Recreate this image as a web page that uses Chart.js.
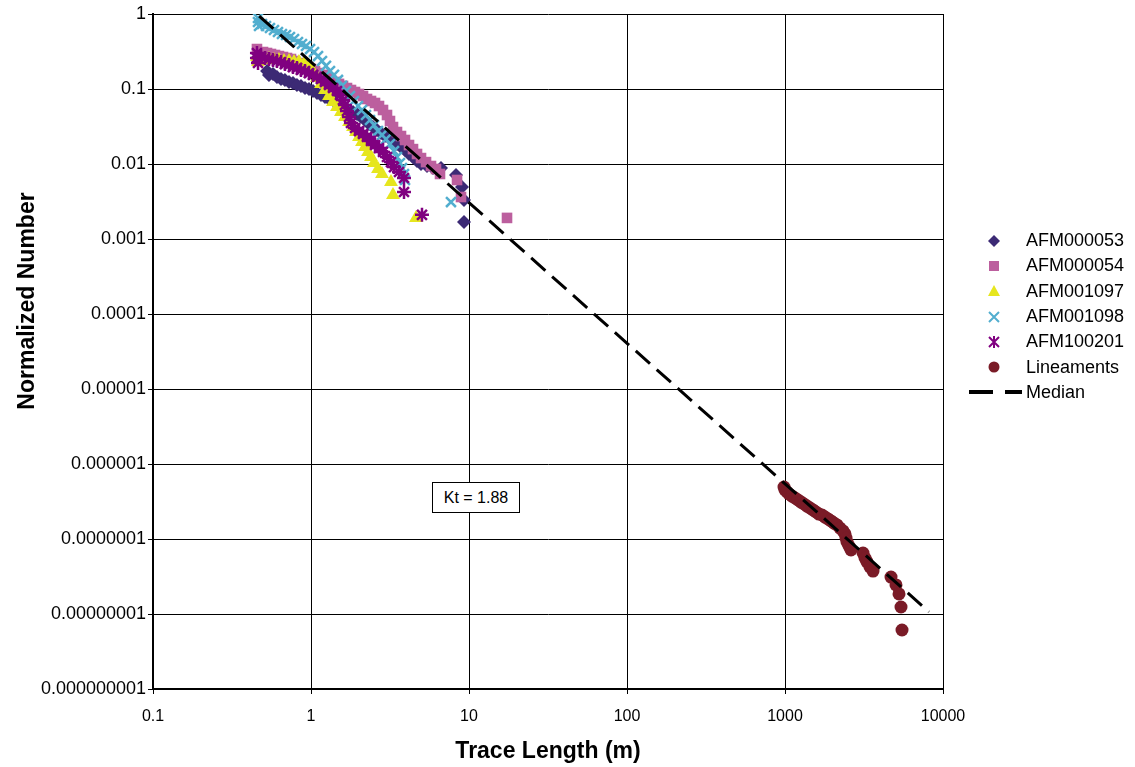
<!DOCTYPE html>
<html>
<head>
<meta charset="utf-8">
<script src="https://cdn.jsdelivr.net/npm/chart.js@4.4.1/dist/chart.umd.min.js"></script>
<style>
  body { margin: 0; background: #fff; font-family: "Liberation Sans", Arial, sans-serif; }
  #wrap { position: relative; width: 1135px; height: 767px; }
  #kt {
    position: absolute; left: 432px; top: 482px; width: 86px; height: 29px;
    border: 1px solid #000; background: #fff; font-size: 16px; line-height: 29px;
    text-align: center; color: #000;
  }
  #legend { position: absolute; left: 962px; top: 228px; font-size: 18px; color: #000; }
  #legend .row { display: flex; align-items: center; height: 25.3px; }
  #legend svg { width: 64px; height: 20px; flex: none; }
</style>
</head>
<body>
<div id="wrap">
  <canvas id="myChart" width="1135" height="767"></canvas>
  <div id="kt">Kt = 1.88</div>
  <div id="legend"></div>
</div>
<script>
// axis ticks
var xTickValues = [0.1, 1, 10, 100, 1000, 10000];
var xTickLabels = ["0.1", "1", "10", "100", "1000", "10000"];
var yTickValues = [1, 0.1, 0.01, 0.001, 0.0001, 0.00001, 0.000001, 0.0000001, 0.00000001, 0.000000001];
var yTickLabels = ["1", "0.1", "0.01", "0.001", "0.0001", "0.00001", "0.000001", "0.0000001", "0.00000001", "0.000000001"];

// AFM000053
var afm53X = [0.527, 0.542, 0.575, 0.609, 0.646, 0.684, 0.726, 0.769, 0.815, 0.864, 0.916, 0.971, 1.03, 1.091, 1.157, 1.226, 1.3, 1.419, 1.548, 1.69, 1.845, 1.955, 2.073, 2.197, 2.329, 2.469, 2.617, 2.773, 2.941, 3.117, 3.304, 3.502, 3.712, 3.935, 4.172, 4.422, 4.688, 4.969, 5.423, 5.918, 6.65, 8.277, 9.031, 9.298, 9.298];
var afm53Y = [0.174, 0.154, 0.158, 0.145, 0.136, 0.132, 0.124, 0.12, 0.113, 0.11, 0.103, 0.1, 0.094, 0.0885, 0.0832, 0.0782, 0.0736, 0.0673, 0.0593, 0.0541, 0.0494, 0.0464, 0.0423, 0.0386, 0.0341, 0.0311, 0.0284, 0.0259, 0.0236, 0.0222, 0.0203, 0.0185, 0.0169, 0.0154, 0.0136, 0.0124, 0.011, 0.01, 0.0094, 0.00885, 0.00885, 0.00714, 0.00494, 0.00331, 0.00168];

// AFM000054
var afm54X = [0.455, 0.469, 0.469, 0.497, 0.527, 0.558, 0.592, 0.627, 0.665, 0.705, 0.747, 0.792, 0.839, 0.89, 0.943, 1.0, 1.06, 1.124, 1.191, 1.263, 1.339, 1.419, 1.504, 1.594, 1.69, 1.791, 1.899, 2.013, 2.134, 2.262, 2.398, 2.542, 2.694, 2.856, 3.027, 3.162, 3.304, 3.502, 3.712, 3.935, 4.172, 4.422, 4.688, 4.969, 5.345, 5.748, 6.183, 6.553, 8.399, 8.9, 17.4];
var afm54Y = [0.341, 0.302, 0.284, 0.311, 0.302, 0.293, 0.284, 0.275, 0.267, 0.259, 0.251, 0.236, 0.222, 0.209, 0.196, 0.185, 0.174, 0.163, 0.154, 0.14, 0.132, 0.124, 0.117, 0.11, 0.103, 0.097, 0.0912, 0.0858, 0.0807, 0.0736, 0.0692, 0.0651, 0.0593, 0.0525, 0.045, 0.0374, 0.0311, 0.0267, 0.0236, 0.0209, 0.0179, 0.0158, 0.0136, 0.012, 0.0106, 0.0094, 0.00858, 0.00736, 0.00612, 0.00363, 0.00191];

// AFM001097
var afm1097X = [0.455, 0.462, 0.483, 0.512, 0.542, 0.583, 0.627, 0.675, 0.726, 0.781, 0.839, 0.903, 0.971, 1.03, 1.091, 1.157, 1.226, 1.3, 1.378, 1.461, 1.548, 1.641, 1.74, 1.845, 1.927, 2.013, 2.103, 2.197, 2.295, 2.398, 2.504, 2.655, 2.814, 3.209, 3.304, 4.62];
var afm1097Y = [0.267, 0.229, 0.244, 0.244, 0.251, 0.244, 0.244, 0.236, 0.236, 0.229, 0.229, 0.215, 0.196, 0.169, 0.14, 0.117, 0.097, 0.0807, 0.0673, 0.0575, 0.0494, 0.0423, 0.0363, 0.0311, 0.0267, 0.0229, 0.0197, 0.0169, 0.0145, 0.0124, 0.0103, 0.00858, 0.00736, 0.00575, 0.00386, 0.0019];

// AFM001098
var afm1098X = [0.462, 0.462, 0.469, 0.49, 0.519, 0.55, 0.583, 0.618, 0.655, 0.695, 0.736, 0.781, 0.827, 0.877, 0.93, 0.986, 1.045, 1.108, 1.174, 1.244, 1.319, 1.398, 1.482, 1.571, 1.665, 1.765, 1.871, 1.984, 2.103, 2.229, 2.363, 2.504, 2.655, 2.814, 2.983, 3.162, 3.352, 3.502, 3.659, 3.766, 3.878, 3.935, 7.69];
var afm1098Y = [0.884, 0.782, 0.692, 0.736, 0.692, 0.651, 0.612, 0.575, 0.541, 0.525, 0.494, 0.464, 0.423, 0.398, 0.374, 0.341, 0.311, 0.275, 0.236, 0.203, 0.174, 0.154, 0.132, 0.11, 0.094, 0.0807, 0.0692, 0.0593, 0.0525, 0.045, 0.0386, 0.0331, 0.0275, 0.0244, 0.0215, 0.0185, 0.0149, 0.0124, 0.0103, 0.00885, 0.00736, 0.00612, 0.00311];

// AFM100201
var afm100201X = [0.455, 0.455, 0.462, 0.483, 0.512, 0.542, 0.575, 0.609, 0.646, 0.684, 0.726, 0.769, 0.815, 0.864, 0.916, 0.971, 1.03, 1.091, 1.157, 1.226, 1.3, 1.378, 1.461, 1.526, 1.594, 1.641, 1.69, 1.74, 1.791, 1.899, 2.013, 2.134, 2.262, 2.398, 2.542, 2.694, 2.856, 3.027, 3.209, 3.352, 3.606, 3.878, 3.878, 5.04];
var afm100201Y = [0.302, 0.259, 0.222, 0.267, 0.259, 0.251, 0.244, 0.236, 0.229, 0.215, 0.209, 0.196, 0.191, 0.179, 0.174, 0.163, 0.154, 0.145, 0.136, 0.124, 0.113, 0.103, 0.094, 0.0832, 0.0714, 0.0612, 0.0509, 0.0423, 0.0352, 0.0302, 0.0275, 0.0251, 0.0229, 0.0203, 0.0179, 0.0163, 0.0145, 0.0124, 0.0106, 0.0091, 0.00782, 0.0065, 0.00423, 0.0021];

// Lineaments
var lineamentsX = [985.6, 1000, 1030, 1060, 1107, 1157, 1209, 1263, 1319, 1378, 1440, 1504, 1571, 1641, 1715, 1791, 1872, 1955, 2042, 2134, 2229, 2329, 2397, 2433, 2469, 2542, 2617, 3117, 3209, 3304, 3451, 3606, 4688, 5040, 5266, 5423, 5503];
var lineamentsY = [4.93e-7, 4.5e-7, 4.23e-7, 3.98e-7, 3.74e-7, 3.52e-7, 3.31e-7, 3.11e-7, 2.93e-7, 2.75e-7, 2.59e-7, 2.44e-7, 2.29e-7, 2.15e-7, 2.09e-7, 1.96e-7, 1.85e-7, 1.74e-7, 1.63e-7, 1.54e-7, 1.4e-7, 1.28e-7, 1.17e-7, 1.03e-7, 9.12e-8, 8.07e-8, 7.14e-8, 6.51e-8, 5.58e-8, 4.94e-8, 4.23e-8, 3.74e-8, 3.11e-8, 2.44e-8, 1.85e-8, 1.24e-8, 6.12e-9];

// Median fit (Kt = 1.88)
var medianX = [0.47, 8150];
var medianY = [0.94, 1.07e-8];

function pts(xs, ys) {
  return xs.map((x, i) => ({ x: x, y: ys[i] }));
}

var series = [
  { label: "AFM000053", xs: afm53X, ys: afm53Y, color: "#3C2A75", style: "rectRot", r: 7, bw: 0, order: 7 },
  { label: "AFM000054", xs: afm54X, ys: afm54Y, color: "#BC5F9E", style: "rect", r: 7.5, bw: 0, order: 6 },
  { label: "AFM001097", xs: afm1097X, ys: afm1097Y, color: "#E6E61E", style: "triangle", r: 8, bw: 0, order: 5 },
  { label: "AFM001098", xs: afm1098X, ys: afm1098Y, color: "#52AECF", style: "crossRot", r: 7, bw: 2.5, order: 4 },
  { label: "AFM100201", xs: afm100201X, ys: afm100201Y, color: "#800080", style: "star", r: 7, bw: 2.5, order: 3 },
  { label: "Lineaments", xs: lineamentsX, ys: lineamentsY, color: "#7A1B27", style: "circle", r: 6.5, bw: 0, order: 2 },
];

var datasets = series.map((s) => ({
  label: s.label,
  data: pts(s.xs, s.ys),
  pointStyle: s.style,
  pointRadius: s.r,
  backgroundColor: s.color,
  borderColor: s.color,
  borderWidth: s.bw,
  order: s.order,
}));

datasets.push({
  label: "Median",
  type: "line",
  data: pts(medianX, medianY),
  borderColor: "#000",
  borderWidth: 3,
  borderDash: [19, 9],
  pointRadius: 0,
  fill: false,
  order: 1,
});

// y axis title sits above the centre in the original
var yTitlePlugin = {
  id: "yTitle",
  afterDraw(chart) {
    var ctx = chart.ctx;
    ctx.save();
    ctx.translate(28, 301);
    ctx.rotate(-Math.PI / 2);
    ctx.font = "bold 23px 'Liberation Sans', Arial, sans-serif";
    ctx.fillStyle = "#000";
    ctx.textAlign = "center";
    ctx.textBaseline = "middle";
    ctx.fillText("Normalized Number", 0, 0);
    ctx.restore();
  },
};

var ctx = document.getElementById("myChart").getContext("2d");
var myChart = new Chart(ctx, {
  type: "scatter",
  data: { datasets: datasets },
  plugins: [yTitlePlugin],
  options: {
    responsive: false,
    animation: false,
    devicePixelRatio: 1,
    layout: { padding: { left: 0, right: 192, top: 14, bottom: 0 } },
    plugins: {
      legend: { display: false },
      tooltip: { enabled: false },
    },
    scales: {
      x: {
        type: "logarithmic",
        min: 0.1,
        max: 10000,
        afterBuildTicks: (scale) => {
          scale.ticks = xTickValues.map((v) => ({ value: v, major: true }));
        },
        afterFit: (scale) => { scale.height = 78; },
        ticks: {
          callback: (value, index) => xTickLabels[index],
          font: { family: "'Liberation Sans', Arial, sans-serif", size: 16 },
          color: "#000",
          padding: 13,
          maxRotation: 0,
        },
        grid: { color: "#000", lineWidth: 1, tickLength: 5 },
        border: { color: "#000", width: 2 },
        title: {
          display: true,
          text: "Trace Length (m)",
          font: { family: "'Liberation Sans', Arial, sans-serif", size: 23, weight: "bold" },
          color: "#000",
          padding: { top: 0, bottom: 2 },
        },
      },
      y: {
        type: "logarithmic",
        min: 0.000000001,
        max: 1,
        afterBuildTicks: (scale) => {
          scale.ticks = yTickValues.map((v) => ({ value: v, major: true }));
        },
        afterFit: (scale) => { scale.width = 153; },
        ticks: {
          callback: (value, index) => yTickLabels[index],
          font: { family: "'Liberation Sans', Arial, sans-serif", size: 18 },
          color: "#000",
          padding: 2,
        },
        grid: { color: "#000", lineWidth: 1, tickLength: 5 },
        border: { color: "#000", width: 2 },
      },
    },
  },
});

// legend built in html
var legendEl = document.getElementById("legend");
var marks = {
  rectRot: (c) => `<polygon points="32,4 38,10 32,16 26,10" fill="${c}"/>`,
  rect: (c) => `<rect x="27" y="5" width="10" height="10" fill="${c}"/>`,
  triangle: (c) => `<polygon points="32,4 38,15 26,15" fill="${c}"/>`,
  crossRot: (c) => `<path d="M27,5 L37,15 M37,5 L27,15" stroke="${c}" stroke-width="2"/>`,
  star: (c) => `<path d="M27,5 L37,15 M37,5 L27,15 M32,4 L32,16" stroke="${c}" stroke-width="2"/>`,
  circle: (c) => `<circle cx="32" cy="10" r="5.5" fill="${c}"/>`,
};
series.forEach((s) => {
  legendEl.innerHTML += `<div class="row"><svg viewBox="0 0 64 20">${marks[s.style](s.color)}</svg><span>${s.label}</span></div>`;
});
legendEl.innerHTML += `<div class="row"><svg viewBox="0 0 64 20"><path d="M7,10 L31,10 M43,10 L60,10" stroke="#000" stroke-width="4"/></svg><span>Median</span></div>`;
</script>
</body>
</html>
